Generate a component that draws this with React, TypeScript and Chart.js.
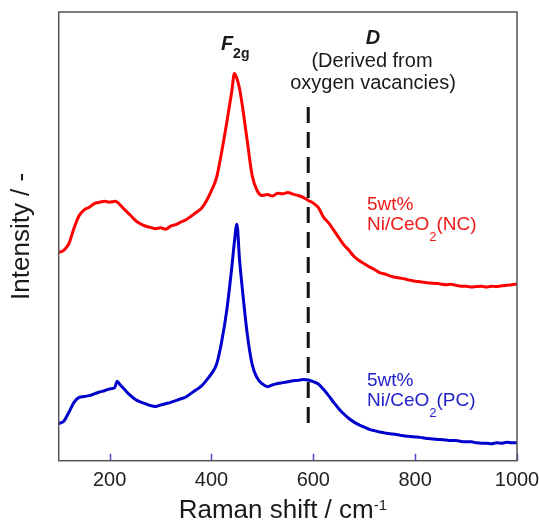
import React, { useEffect, useRef } from 'react';
import { Chart, registerables } from 'chart.js';

Chart.register(...registerables);

// ---- data ----
const ramanShift = [
  100, 110, 120, 130, 140, 150, 160, 170, 180, 190, 200, 210, 215, 220, 230, 240, 250, 260, 270, 280,
  290, 300, 310, 320, 330, 340, 350, 360, 370, 380, 390, 400, 410, 420, 430, 440, 445, 450, 455, 460,
  470, 480, 490, 500, 510, 520, 530, 540, 550, 560, 570, 580, 590, 600, 610, 620, 630, 640, 650, 660,
  670, 680, 690, 700, 710, 720, 730, 740, 750, 760, 770, 780, 790, 800, 810, 820, 830, 840, 850, 860,
  870, 880, 890, 900, 910, 920, 930, 940, 950, 960, 970, 980, 990, 1000,
];

const ncIntensity = [
  46.4, 46.9, 48.4, 51.8, 54.6, 55.9, 56.5, 57.3, 57.6, 57.8, 57.6, 57.8, 57.6, 57.1, 55.9, 54.8, 53.6, 52.8, 52.3, 52.0,
  51.7, 51.9, 51.6, 52.3, 52.6, 53.2, 53.7, 54.5, 55.3, 56.2, 57.9, 60.2, 63.1, 68.8, 75.3, 82.4, 86.3, 85.2, 83.0, 79.6,
  71.5, 63.5, 60.1, 59.1, 59.3, 59.0, 59.6, 59.5, 59.8, 59.4, 59.1, 58.7, 58.0, 57.4, 56.4, 54.3, 53.0, 51.4, 49.7, 48.1,
  46.9, 45.5, 44.6, 43.9, 43.2, 42.6, 41.9, 41.6, 41.2, 40.9, 40.7, 40.5, 40.2, 40.0, 39.9, 39.7, 39.6, 39.5, 39.4, 39.2,
  39.3, 39.1, 38.9, 38.9, 38.7, 38.8, 38.9, 38.7, 38.9, 38.8, 39.0, 39.1, 39.2, 39.4,
];

const pcIntensity = [
  8.3, 8.8, 10.8, 13.0, 14.1, 14.3, 14.5, 14.9, 15.3, 15.6, 16.0, 16.3, 17.7, 17.0, 15.8, 14.6, 13.7, 13.1, 12.7, 12.3,
  12.1, 12.4, 12.7, 13.0, 13.4, 13.8, 14.2, 15.0, 15.8, 16.6, 17.9, 19.4, 21.5, 26.5, 33.5, 43.2, 48.7, 52.7, 45.0, 39.0,
  28.5, 21.4, 18.4, 17.1, 16.5, 16.9, 17.2, 17.4, 17.6, 17.8, 17.9, 18.1, 18.0, 17.6, 17.1, 15.9, 14.5, 13.0, 11.6, 10.4,
  9.4, 8.6, 8.0, 7.5, 7.0, 6.7, 6.4, 6.2, 6.0, 5.9, 5.7, 5.5, 5.4, 5.3, 5.2, 5.0, 4.9, 4.8, 4.7, 4.6,
  4.5, 4.5, 4.3, 4.2, 4.2, 4.0, 3.9, 3.9, 3.8, 4.0, 3.9, 4.1, 4.0, 4.0,
];

const xTicks = [200, 400, 600, 800, 1000];
const xRange = [100, 1000];
const yRange = [0, 100];
const dBandShift = 590;
const dBandSpan = [78.8, 6.8];

// ---- styles ----
const FONT = "'Liberation Sans', Arial, Helvetica, sans-serif";
const RED = '#ff0000';
const BLUE = '#0000cc';
const RED_TEXT = '#f01818';
const BLUE_TEXT = '#2222cc';
const TEXT = '#1a1a1a';

type Part = { text: string; font: string; dy?: number };

function drawParts(ctx: CanvasRenderingContext2D, parts: Part[], x: number, y: number, align: 'left' | 'center') {
  let total = 0;
  const widths = parts.map((p) => {
    ctx.font = p.font;
    const w = ctx.measureText(p.text).width;
    total += w;
    return w;
  });
  let cx = align === 'center' ? x - total / 2 : x;
  parts.forEach((p, i) => {
    ctx.font = p.font;
    ctx.fillText(p.text, cx, y + (p.dy || 0));
    cx += widths[i];
  });
}

const overlay = {
  id: 'overlay',
  afterDatasetsDraw(chart: any) {
    const { ctx, chartArea } = chart;
    const xs = chart.scales.x;
    ctx.save();
    // inner ticks
    ctx.strokeStyle = '#4b4bd0';
    ctx.lineWidth = 1.5;
    xTicks.forEach((v) => {
      const px = Math.round(xs.getPixelForValue(v)) + 0.5;
      ctx.beginPath();
      ctx.moveTo(px, chartArea.bottom);
      ctx.lineTo(px, chartArea.bottom - 7);
      ctx.stroke();
    });
    // frame
    ctx.strokeStyle = '#555555';
    ctx.lineWidth = 1.5;
    ctx.strokeRect(chartArea.left, chartArea.top, chartArea.right - chartArea.left, chartArea.bottom - chartArea.top);
    ctx.restore();
  },
  afterDraw(chart: any) {
    const { ctx, chartArea } = chart;
    const xs = chart.scales.x;
    ctx.save();
    ctx.textBaseline = 'alphabetic';
    ctx.textAlign = 'left';

    // x axis title with superscript
    ctx.fillStyle = TEXT;
    drawParts(
      ctx,
      [
        { text: 'Raman shift / cm', font: `26px ${FONT}` },
        { text: '-1', font: `15px ${FONT}`, dy: -8 },
      ],
      (chartArea.left + chartArea.right) / 2 - 5,
      518,
      'center'
    );

    // F2g label
    drawParts(
      ctx,
      [
        { text: 'F', font: `italic bold 20px ${FONT}` },
        { text: '2g', font: `bold 14px ${FONT}`, dy: 8 },
      ],
      xs.getPixelForValue(446) - 14,
      50,
      'left'
    );

    // D label
    const dx = 373;
    drawParts(ctx, [{ text: 'D', font: `italic bold 20px ${FONT}` }], dx, 44, 'center');
    drawParts(ctx, [{ text: '(Derived from', font: `20px ${FONT}` }], dx - 1, 67, 'center');
    drawParts(ctx, [{ text: 'oxygen vacancies)', font: `20px ${FONT}` }], dx, 89, 'center');

    // series labels
    const lx = 367;
    ctx.fillStyle = RED_TEXT;
    drawParts(ctx, [{ text: '5wt%', font: `19px ${FONT}` }], lx, 210, 'left');
    drawParts(
      ctx,
      [
        { text: 'Ni/CeO', font: `19px ${FONT}` },
        { text: '2', font: `13px ${FONT}`, dy: 11 },
        { text: '(NC)', font: `19px ${FONT}` },
      ],
      lx,
      230,
      'left'
    );
    ctx.fillStyle = BLUE_TEXT;
    drawParts(ctx, [{ text: '5wt%', font: `19px ${FONT}` }], lx, 386, 'left');
    drawParts(
      ctx,
      [
        { text: 'Ni/CeO', font: `19px ${FONT}` },
        { text: '2', font: `13px ${FONT}`, dy: 11 },
        { text: '(PC)', font: `19px ${FONT}` },
      ],
      lx,
      406,
      'left'
    );
    ctx.restore();
  },
};

export default function App() {
  const ref = useRef<HTMLCanvasElement | null>(null);

  useEffect(() => {
    if (!ref.current) return;
    const chart = new Chart(ref.current, {
      type: 'line',
      data: {
        datasets: [
          {
            label: '5wt% Ni/CeO2(NC)',
            data: ramanShift.map((x, i) => ({ x, y: ncIntensity[i] })),
            borderColor: RED,
            borderWidth: 3,
            pointRadius: 0,
            cubicInterpolationMode: 'monotone',
            borderJoinStyle: 'round',
            borderCapStyle: 'round',
            fill: false,
          },
          {
            label: '5wt% Ni/CeO2(PC)',
            data: ramanShift.map((x, i) => ({ x, y: pcIntensity[i] })),
            borderColor: BLUE,
            borderWidth: 3,
            pointRadius: 0,
            cubicInterpolationMode: 'monotone',
            borderJoinStyle: 'round',
            borderCapStyle: 'round',
            fill: false,
          },
          {
            label: 'D',
            data: dBandSpan.map((y) => ({ x: dBandShift, y })),
            borderColor: '#111111',
            borderWidth: 3,
            borderDash: [16, 9],
            pointRadius: 0,
            fill: false,
          },
        ],
      },
      options: {
        animation: false,
        responsive: false,
        maintainAspectRatio: false,
        layout: { padding: { left: 0, right: 22, top: 12, bottom: 0 } },
        plugins: { legend: { display: false }, tooltip: { enabled: false } },
        scales: {
          x: {
            type: 'linear',
            min: xRange[0],
            max: xRange[1],
            grid: { display: false, drawTicks: false },
            border: { display: false },
            ticks: {
              font: { family: FONT, size: 20 },
              color: '#222222',
              padding: 8,
              maxRotation: 0,
              autoSkip: false,
              callback: (v: any) => String(v),
            },
            afterBuildTicks: (s: any) => {
              s.ticks = xTicks.map((v) => ({ value: v }));
            },
            afterFit: (s: any) => {
              s.height = 64.3;
              s.paddingLeft = 0;
              s.paddingRight = 0;
            },
            title: { display: false },
          },
          y: {
            type: 'linear',
            min: yRange[0],
            max: yRange[1],
            grid: { display: false, drawTicks: false },
            border: { display: false },
            ticks: { display: false },
            title: {
              display: true,
              text: 'Intensity / -',
              font: { family: FONT, size: 26 },
              color: '#1a1a1a',
              padding: { top: 6, bottom: 0 },
            },
            afterFit: (s: any) => {
              s.width = 58.7;
            },
          },
        },
      },
      plugins: [overlay],
    });
    return () => chart.destroy();
  }, []);

  return (
    <div style={{ position: 'fixed', left: 0, top: 0, width: 539, height: 525, background: '#fff' }}>
      <canvas ref={ref} width={539} height={525} style={{ display: 'block', width: 539, height: 525 }} />
    </div>
  );
}
